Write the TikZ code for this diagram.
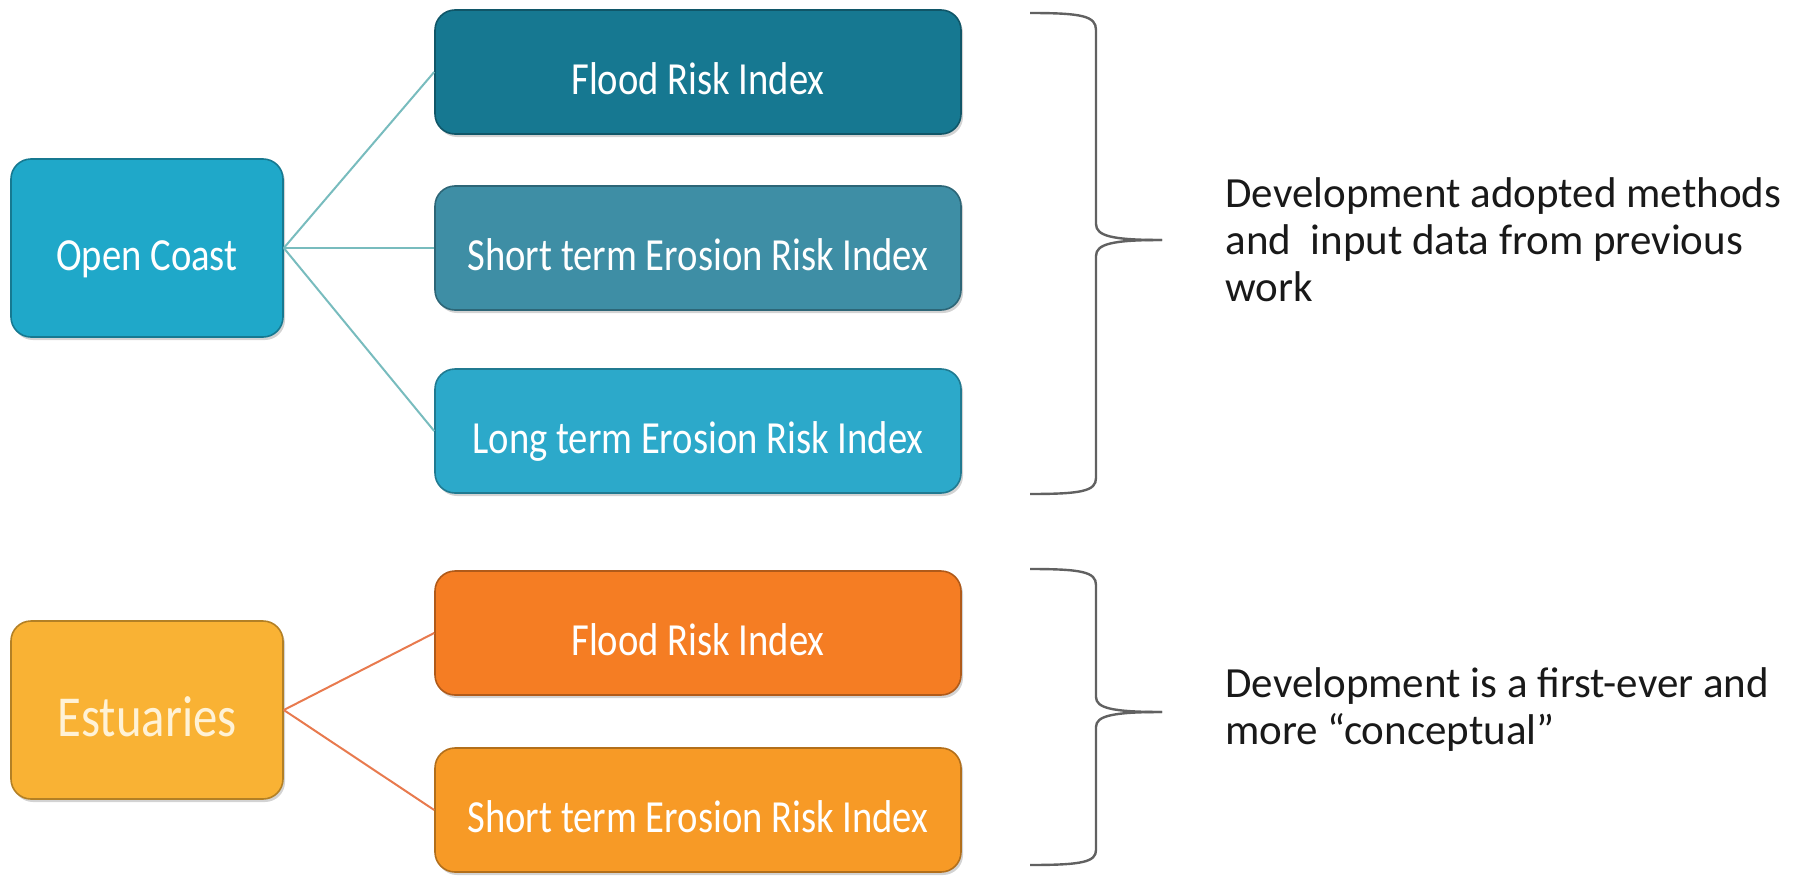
\documentclass[tikz,border=0pt]{standalone}
\usepackage{fontspec}
\setmainfont{Carlito}
\newfontfamily\boxfont[FakeStretch=0.84]{Carlito}
\usetikzlibrary{shadows}

\definecolor{coastblue}{RGB}{31,168,201}
\definecolor{floodteal}{RGB}{22,120,145}
\definecolor{shortteal}{RGB}{62,142,165}
\definecolor{longteal}{RGB}{44,169,202}
\definecolor{estuyellow}{RGB}{249,178,52}
\definecolor{floodorange}{RGB}{245,125,35}
\definecolor{shortorange}{RGB}{247,154,38}
\definecolor{tealline}{RGB}{120,188,190}
\definecolor{orangeline}{RGB}{232,122,78}

\begin{document}
\begin{tikzpicture}[x=0.5pt,y=-0.5pt,
    box/.style={rounded corners=10pt, inner sep=0pt, fill=#1, draw=#1!72!black, line width=0.8pt,
      text height=22pt, text depth=0pt,
      drop shadow={shadow xshift=1pt, shadow yshift=-1.5pt, opacity=.35}},
    idx/.style={box=#1, minimum width=263pt, minimum height=62pt, text=white,
      font=\boxfont\fontsize{23}{28}\selectfont},
    group/.style={box=#1, minimum width=136pt, minimum height=89pt},
    link/.style={draw=#1, line width=1pt},
    note/.style={text width=300pt, align=flush left, inner sep=0pt, text=black!90,
      font=\fontsize{21.5}{23.5}\selectfont},
    brace/.style={draw=black!62, line width=1.2pt}]
  \useasboundingbox (0,0) rectangle (1800,878);

  \node[group=coastblue, text=white, font=\boxfont\fontsize{23}{28}\selectfont] (coast) at (147,248) {Open Coast};
  \node[idx=floodteal] (floodA) at (698,72) {Flood Risk Index};
  \node[idx=shortteal] (shortA) at (698,248) {Short term Erosion Risk Index};
  \node[idx=longteal] (longA) at (698,431) {Long term Erosion Risk Index};

  \node[group=estuyellow, text={rgb,255:red,255;green,242;blue,214}, font=\boxfont\fontsize{29}{34}\selectfont, text height=26pt] (estu) at (147,710) {Estuaries};
  \node[idx=floodorange] (floodB) at (698,633) {Flood Risk Index};
  \node[idx=shortorange] (shortB) at (698,810) {Short term Erosion Risk Index};

  \draw[link=tealline] (coast.east) -- (floodA.west);
  \draw[link=tealline] (coast.east) -- (shortA.west);
  \draw[link=tealline] (coast.east) -- (longA.west);
  \draw[link=orangeline] (estu.east) -- (floodB.west);
  \draw[link=orangeline] (estu.east) -- (shortB.west);

  % braces
  \draw[brace] (1030,13) .. controls (1082,13) and (1096,16) .. (1096,30) -- (1096,224)
    .. controls (1096,236) and (1112,240) .. (1162,240);
  \draw[brace] (1162,240) .. controls (1112,240) and (1096,244) .. (1096,256) -- (1096,478)
    .. controls (1096,491) and (1082,494) .. (1030,494);
  \draw[brace] (1030,569) .. controls (1082,569) and (1096,572) .. (1096,585) -- (1096,697)
    .. controls (1096,708) and (1112,712) .. (1162,712);
  \draw[brace] (1162,712) .. controls (1112,712) and (1096,716) .. (1096,727) -- (1096,850)
    .. controls (1096,862) and (1082,865) .. (1030,865);

  \node[note, anchor=base west] (noteA) at (1225,207) {Development adopted methods\\and~ input data from previous\\work};
  \node[note, anchor=base west] (noteB) at (1225,697) {Development is a first-ever and\\more “conceptual”};
\end{tikzpicture}
\end{document}
